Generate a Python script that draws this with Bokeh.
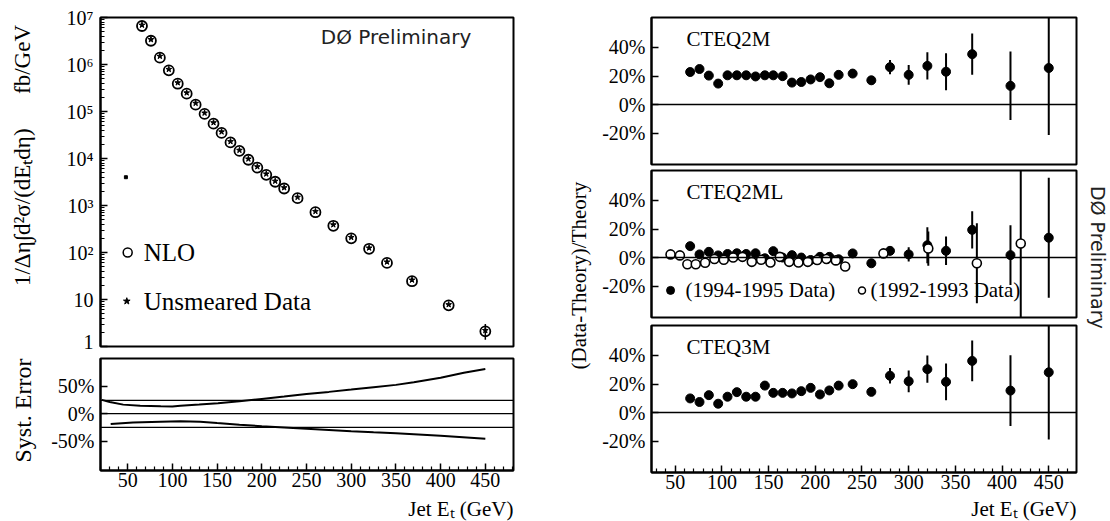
import math
from bokeh.plotting import figure
from bokeh.models import Range1d, FixedTicker, Span
from bokeh.layouts import row, column
from bokeh.embed import file_html
from bokeh.resources import INLINE
from bokeh.core.properties import value

SERIF = "Liberation Serif"
SANS = "DejaVu Sans"

# ---------------- data ----------------
et = [66, 76, 86, 96, 106, 116, 126, 136, 146, 155, 165, 175, 185, 195, 205,
      215, 225, 240, 260, 280, 300, 320, 340, 368, 409, 450]

nlo = [6.6e6, 3.2e6, 1.4e6, 7.5e5, 3.9e5, 2.4e5, 1.4e5, 8.9e4, 5.5e4, 3.5e4,
       2.2e4, 1.45e4, 9.4e3, 6.4e3, 4.5e3, 3.2e3, 2.3e3, 1.43e3, 7.2e2, 3.7e2,
       2.0e2, 1.2e2, 60, 24.5, 7.5, 2.1]
unsmeared = [6.9e6, 3.4e6, 1.5e6, 7.9e5, 4.1e5, 2.5e5, 1.5e5, 9.3e4, 5.8e4, 3.7e4,
             2.3e4, 1.5e4, 9.8e3, 6.7e3, 4.7e3, 3.3e3, 2.4e3, 1.5e3, 7.5e2, 3.9e2,
             2.1e2, 1.25e2, 63, 26, 7.8, 2.2]
unsmeared_err = [0, 0, 0, 0, 0, 0, 0, 0, 0, 0, 0, 0, 0, 0, 0, 0, 0, 0, 0, 0,
                 0, 0, 0, 0, 0, 0.8]
stray_x = [48]
stray_y = [4000]

syst_up_x = [21, 30, 45, 64, 87, 100, 109, 130, 151, 175, 200, 225, 250, 275,
             300, 325, 350, 370, 400, 426, 450]
syst_up = [25, 21, 16.4, 14.5, 13.6, 13.2, 14.5, 16.5, 18.7, 22.5, 26.7, 31,
           35.8, 39.5, 43.6, 48, 52.2, 57, 65, 74, 81]
syst_dn_x = [31, 56, 87, 109, 131, 150, 175, 200, 225, 250, 275, 300, 325, 350,
             375, 400, 425, 450]
syst_dn = [-18.8, -15.8, -14.5, -13.6, -14.5, -17, -20, -22.7, -25, -27.3,
           -29.5, -31.8, -33.7, -35.5, -37.7, -40, -42.7, -45.5]
syst_ref_levels = [24, 0, -25]

cteq2m = [22.8, 24.9, 20.3, 14.7, 20.5, 20.5, 20.5, 19.7, 20.5, 20.5, 19.9,
          15.4, 15.8, 17.6, 19.2, 14.9, 20.8, 21.7, 17.0, 26.2, 20.8, 27.1,
          23.0, 35.3, 13.1, 25.6]
cteq2m_err = [1, 1, 1, 1, 1, 1, 1, 1.5, 1.5, 1.5, 1.5, 1.5, 2, 2, 2, 2, 2.5,
              2.5, 3, 5, 7, 9.6, 13, 14.5, 24, 47]

cteq2ml = [8, 2.2, 4, 1.5, 2.5, 3, 2.5, 3, -0.5, 4.5, 0, 1.7, 0, -1.7, 0.5,
           0.5, -1.2, 2.9, -4, 4.7, 2.2, 8.6, 4.7, 19.4, 1.7, 13.9]
cteq2ml_err = [1, 1, 1, 1, 1, 1, 1, 1, 1, 1, 1, 1, 1, 1, 1, 1, 1, 2, 2, 3, 5,
               12.6, 10, 13, 21, 42]

et_9293 = [45, 55, 63, 72, 82, 92, 102, 112, 122, 132, 142, 152, 162, 172, 182,
           192, 202, 212, 222, 232, 273, 321, 373, 420]
cteq2ml_9293 = [2.2, 1.5, -4.7, -4.7, -3.6, -1, -1.5, 0, 0.5, -3, -1.5, -3.5,
                0.5, -3, -3.5, -3, -1.7, -1, -2, -6.3, 2.9, 6.3, -4, 9.8]
cteq2ml_9293_err = [1, 1, 1, 1, 1, 1, 1, 1, 1, 1, 1, 1, 1, 1, 1, 1, 1, 1, 1, 1,
                    3, 12, 28, 55]

cteq3m = [9.9, 7.4, 12.2, 6.2, 11.1, 14.3, 11.1, 11.1, 18.9, 13.8, 13.8, 13.4,
          15.0, 17.3, 12.7, 15.5, 18.9, 19.9, 14.5, 25.8, 21.9, 30.4, 21.5,
          36.2, 15.4, 28.2]
cteq3m_err = [1, 1, 1, 1, 1, 1, 1, 1, 1, 1, 1, 1, 1, 1, 1, 1, 1, 1.5, 2, 5.4,
              7.6, 9.6, 12.9, 14.3, 24.8, 47]

x_major = [50, 100, 150, 200, 250, 300, 350, 400, 450]
x_minor = [v for v in range(20, 481, 10) if v % 50 != 0]
ratio_ticks = [-20, 0, 20, 40]
ratio_labels = {-20: "-20%", 0: "0%", 20: "20%", 40: "40%"}
syst_ticks = [-50, 0, 50]
syst_labels = {-50: "-50%", 0: "0%", 50: "50%"}
log_ticks = [1.0, 10.0, 100.0, 1000.0, 1e4, 1e5, 1e6, 1e7]
log_labels = {1.0: "1", 10.0: "10", 100.0: "10²", 1000.0: "10³", 1e4: "10⁴",
              1e5: "10⁵", 1e6: "10⁶", 1e7: "10⁷"}

XLABEL = "Jet Eₜ (GeV)"
YLABEL_XSEC = "1/Δη∫d²σ/(dEₜdη)\u2002\u2002\u2002fb/GeV"
YLABEL_SYST = "Syst. Error"
YLABEL_RATIO = "(Data-Theory)/Theory"
PRELIM = "DØ Preliminary"

# ---------------- layout geometry (screen pixels) ----------------
LSTRIP_W = 44
LCOL_W, LCOL_L, LCOL_R = 489, 56, 20
MID_W = 62
RCOL_W, RCOL_L, RCOL_R = 489, 56, 8
SIDE_W = 26
TOTAL_H = 521


def base_fig(w, h, left, right, top, bottom, xr, yr, y_type="linear"):
    p = figure(width=w, height=h, x_range=xr, y_range=yr, y_axis_type=y_type,
               output_backend="svg", toolbar_location=None,
               min_border_left=left, min_border_right=right,
               min_border_top=top, min_border_bottom=bottom)
    p.grid.visible = False
    p.outline_line_color = "black"
    p.outline_line_width = 2
    p.background_fill_color = "white"
    p.border_fill_color = "white"
    for ax in p.axis:
        ax.axis_line_color = "black"
        ax.axis_line_width = 2
        ax.major_tick_in = 7
        ax.major_tick_out = 0
        ax.minor_tick_in = 4
        ax.minor_tick_out = 0
        ax.major_tick_line_width = 1.5
        ax.minor_tick_line_width = 1.2
        ax.major_tick_line_color = "black"
        ax.minor_tick_line_color = "black"
        ax.major_label_text_font = SERIF
        ax.major_label_text_font_size = "20px"
        ax.major_label_text_color = "black"
    return p


def setup_x(p):
    p.xaxis.ticker = FixedTicker(ticks=x_major, minor_ticks=x_minor)
    p.xaxis.major_label_standoff = 2


def text_fig(w, h, left, right, xr, texts):
    p = figure(width=w, height=h, x_range=xr, y_range=Range1d(0, 1),
               output_backend="svg", toolbar_location=None,
               x_axis_location=None, y_axis_location=None,
               min_border_left=left, min_border_right=right,
               min_border_top=0, min_border_bottom=0)
    p.grid.visible = False
    p.outline_line_color = None
    p.background_fill_color = "white"
    p.border_fill_color = "white"
    for t in texts:
        p.text([t["x"]], [t["y"]], text=[t["text"]], angle=t.get("angle", 0),
               text_align=t.get("align", "center"),
               text_baseline=t.get("baseline", "middle"),
               text_font=value(t.get("font", SERIF)),
               text_font_size=t.get("size", "22px"),
               text_color=t.get("color", "black"))
    return p


# ---------------- left top: cross section ----------------
x_left = Range1d(19.6, 481.5)
pA = base_fig(LCOL_W, 352, LCOL_L, LCOL_R, 17, 6, x_left, Range1d(1, 1e7), "log")
pA.xaxis.visible = False
minor_log = [m * 10 ** k for k in range(0, 7) for m in range(2, 10)]
pA.yaxis.ticker = FixedTicker(ticks=log_ticks, minor_ticks=minor_log)
pA.yaxis.major_label_overrides = log_labels
pA.yaxis.major_label_standoff = 7

pA.scatter(et, nlo, marker="circle", size=10, fill_color="white",
           line_color="black", line_width=1.8)
pA.scatter(et, unsmeared, marker="star", size=6, color="black")
lo = [v - e for v, e in zip(unsmeared, unsmeared_err)]
hi = [v + e for v, e in zip(unsmeared, unsmeared_err)]
pA.segment(et[-1:], lo[-1:], et[-1:], hi[-1:], line_width=1.5, color="black")
pA.scatter(stray_x, stray_y, marker="square", size=3, color="black")

pA.scatter([50], [100], marker="circle", size=9, fill_color="white",
           line_color="black", line_width=1.5)
pA.text([68], [100], text=["NLO"], text_font=value(SERIF),
        text_font_size="25px", text_baseline="middle", text_color="black")
pA.scatter([49], [9.2], marker="star", size=7, color="black")
pA.text([68], [9.2], text=["Unsmeared Data"], text_font=value(SERIF),
        text_font_size="25px", text_baseline="middle", text_color="black")
pA.text([266], [3.8e6], text=[PRELIM], text_font=value(SANS),
        text_font_size="20px", text_baseline="middle", text_color="#222222")

# ---------------- left bottom: systematic error ----------------
pB = base_fig(LCOL_W, 143, LCOL_L, LCOL_R, 6, 25, x_left, Range1d(-103, 100))
setup_x(pB)
pB.yaxis.ticker = FixedTicker(ticks=syst_ticks)
pB.yaxis.major_label_overrides = syst_labels
pB.yaxis.major_label_standoff = 6
for lvl in syst_ref_levels:
    pB.add_layout(Span(location=lvl, dimension="width", line_color="black",
                       line_width=1.3))
pB.line(syst_up_x, syst_up, line_color="black", line_width=2)
pB.line(syst_dn_x, syst_dn, line_color="black", line_width=2)

xlab_left = text_fig(LCOL_W, 26, LCOL_L, LCOL_R, x_left,
                     [dict(x=x_left.end, y=0.5, text=XLABEL, align="right",
                           baseline="middle", size="21px")])

# ---------------- right: ratio panels ----------------
x_right = Range1d(24.6, 479.7)


def ratio_panel(h, top, bottom, title):
    p = base_fig(RCOL_W, h, RCOL_L, RCOL_R, top, bottom, x_right, Range1d(-42, 61))
    p.yaxis.ticker = FixedTicker(ticks=ratio_ticks)
    p.yaxis.major_label_overrides = ratio_labels
    p.yaxis.major_label_standoff = 6
    p.add_layout(Span(location=0, dimension="width", line_color="black",
                      line_width=1.5))
    p.text([62], [46], text=[title], text_font=value(SERIF),
           text_font_size="21px", text_baseline="middle", text_color="black")
    return p


def add_points(p, xs, vals, errs, open_marker=False):
    lo = [v - e for v, e in zip(vals, errs)]
    hi = [v + e for v, e in zip(vals, errs)]
    p.segment(xs, lo, xs, hi, line_color="black", line_width=2)
    if open_marker:
        p.scatter(xs, vals, marker="circle", size=9, fill_color="white",
                  line_color="black", line_width=1.6)
    else:
        p.scatter(xs, vals, marker="circle", size=9, color="black")


p1 = ratio_panel(167, 17, 3, "CTEQ2M")
p1.xaxis.visible = False
add_points(p1, et, cteq2m, cteq2m_err)

p2 = ratio_panel(154, 3, 4, "CTEQ2ML")
p2.xaxis.visible = False
add_points(p2, et, cteq2ml, cteq2ml_err)
add_points(p2, et_9293, cteq2ml_9293, cteq2ml_9293_err, open_marker=True)
p2.scatter([45], [-23], marker="circle", size=8, color="black")
p2.text([61], [-23], text=["(1994-1995 Data)"], text_font=value(SERIF),
        text_font_size="21px", text_baseline="middle", text_color="black")
p2.scatter([250], [-23], marker="circle", size=7, fill_color="white",
           line_color="black", line_width=1.5)
p2.text([259], [-23], text=["(1992-1993 Data)"], text_font=value(SERIF),
        text_font_size="21px", text_baseline="middle", text_color="black")

p3 = ratio_panel(174, 4, 23, "CTEQ3M")
setup_x(p3)
add_points(p3, et, cteq3m, cteq3m_err)

xlab_right = text_fig(RCOL_W, 26, RCOL_L, RCOL_R, x_right,
                      [dict(x=x_right.end, y=0.5, text=XLABEL, align="right",
                            baseline="middle", size="21px")])

# ---------------- rotated side texts ----------------
lstrip = text_fig(LSTRIP_W, TOTAL_H, 0, 0, Range1d(0, 1),
                  [dict(x=0.5, y=0.7025, text=YLABEL_XSEC, angle=math.pi / 2,
                        size="23px"),
                   dict(x=0.5, y=0.213, text=YLABEL_SYST, angle=math.pi / 2,
                        size="24px")])
ylab = text_fig(MID_W, TOTAL_H, 0, 0, Range1d(0, 1),
                [dict(x=0.726, y=0.472, text=YLABEL_RATIO, angle=math.pi / 2,
                      size="21px")])
side = text_fig(SIDE_W, TOTAL_H, 0, 0, Range1d(0, 1),
                [dict(x=0.5, y=0.507, text=PRELIM, angle=-math.pi / 2,
                      font=SANS, size="19px", color="#222222")])

layout = row(lstrip, column(pA, pB, xlab_left), ylab,
             column(p1, p2, p3, xlab_right), side)

open("out.html", "w").write(file_html(layout, INLINE))
